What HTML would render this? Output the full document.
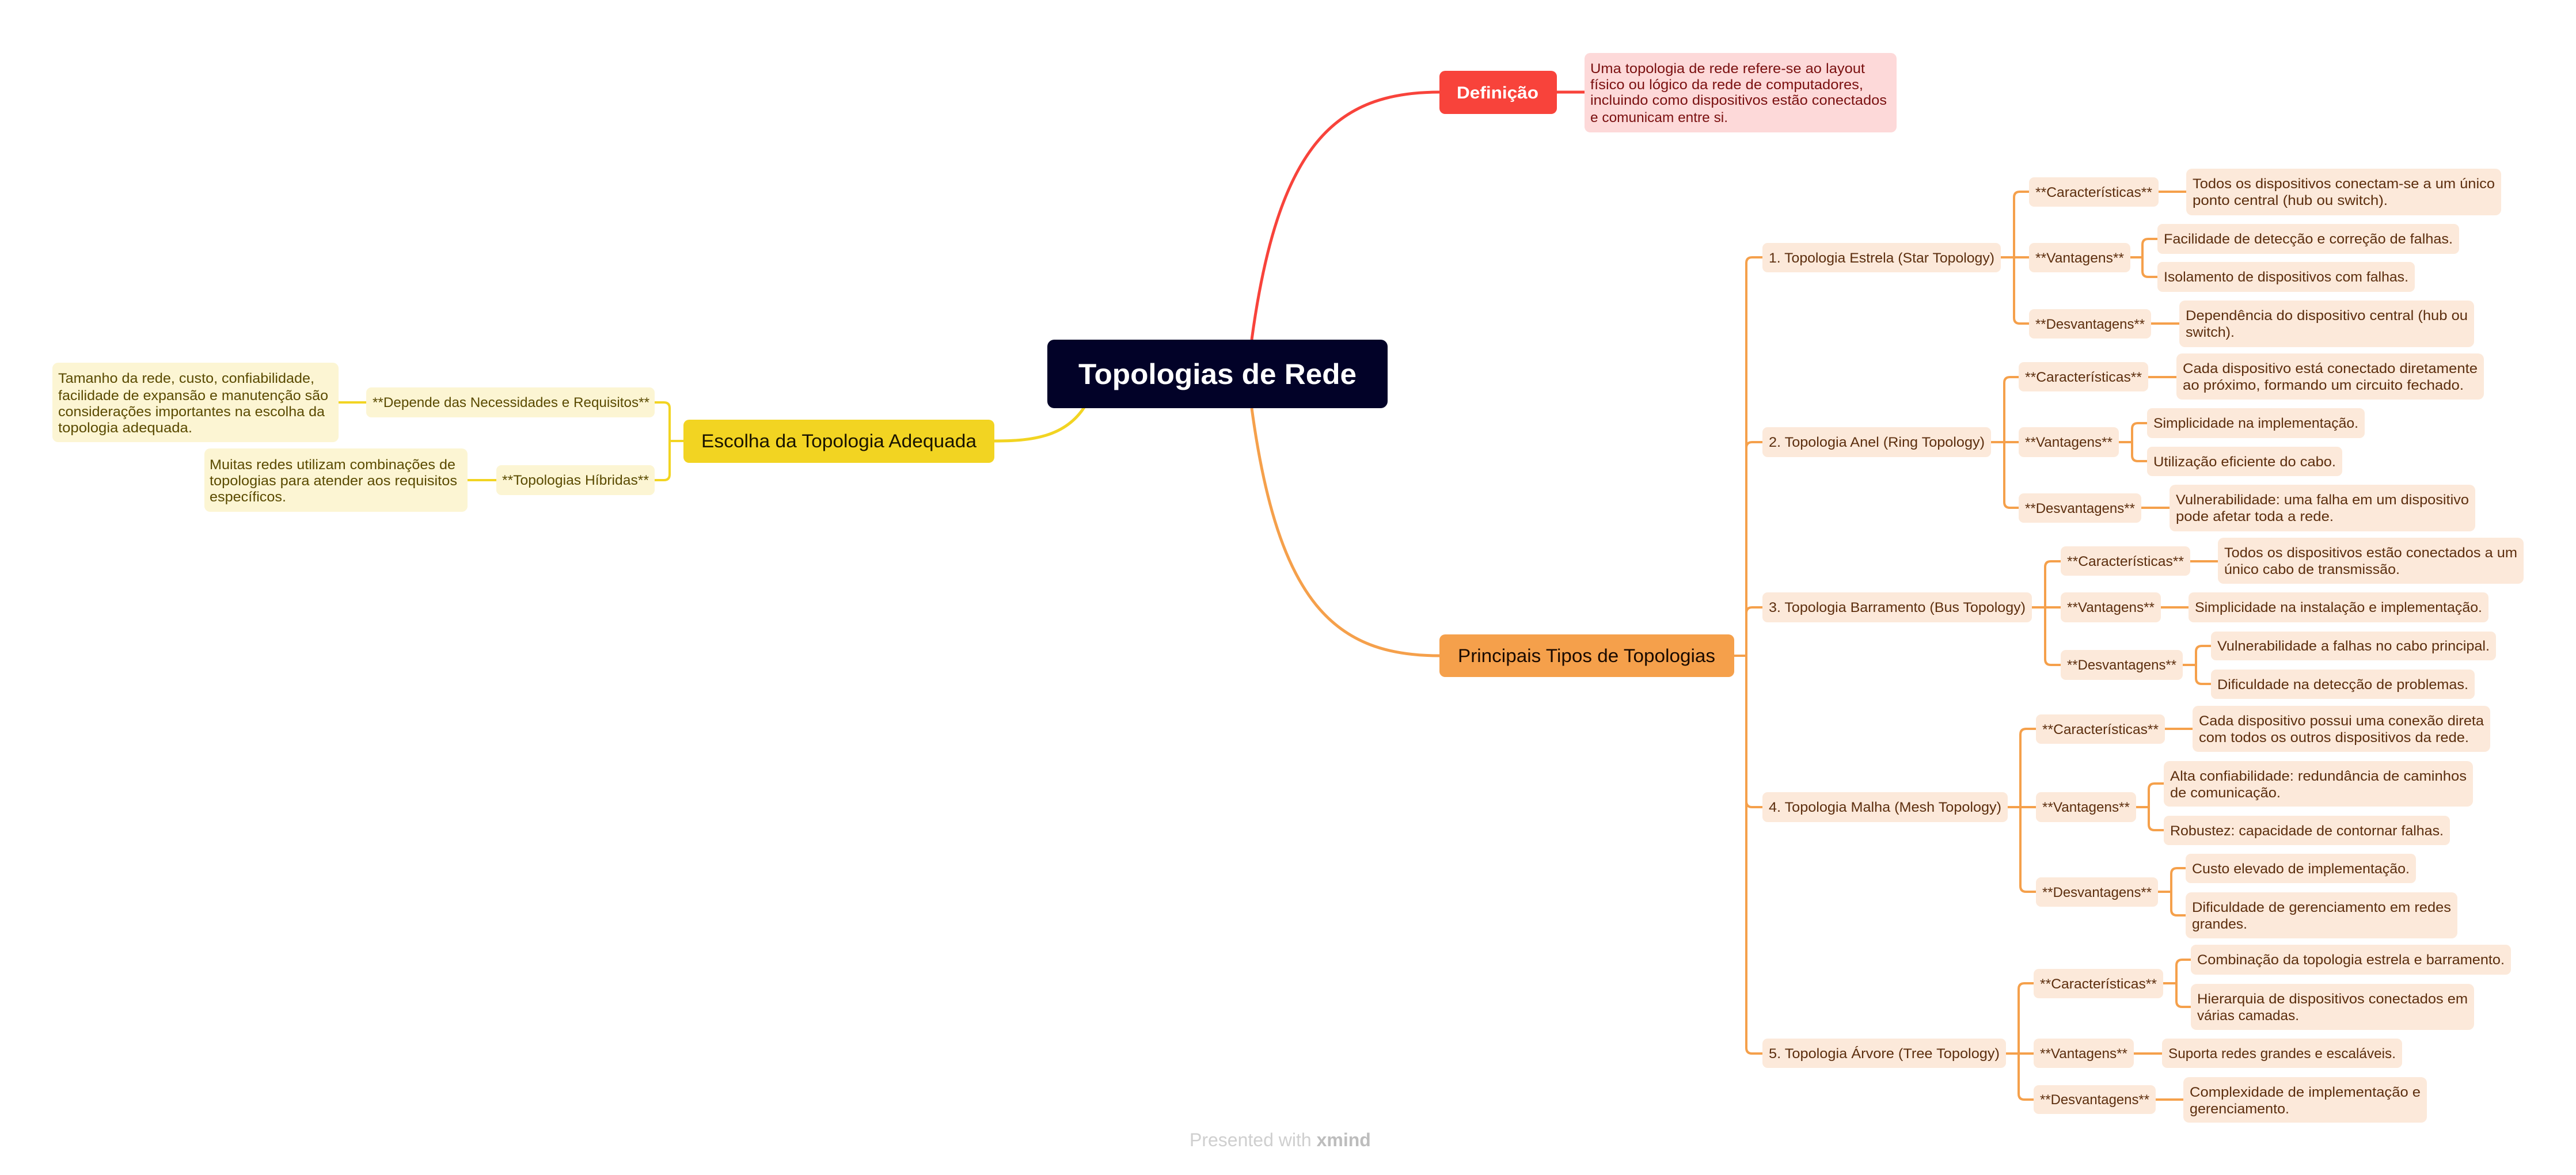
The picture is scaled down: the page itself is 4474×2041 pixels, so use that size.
<!DOCTYPE html>
<html><head><meta charset="utf-8"><style>
html,body{margin:0;padding:0;background:#fff;}
svg{display:block;}
text{font-family:"Liberation Sans",sans-serif;}
.o{fill:#fce9da;}
.ot{fill:#5c2e0e;font-size:24px;}
.y{fill:#fcf5d3;}
.yt{fill:#5a4a00;font-size:24px;}
</style></head><body>
<svg width="4474" height="2041" viewBox="0 0 4474 2041" xmlns="http://www.w3.org/2000/svg">
<rect width="4474" height="2041" fill="#fff"/>
<!-- main curves -->
<path d="M2174,590 C2220,250 2320,160 2500,160" fill="none" stroke="#f8433b" stroke-width="5"/>
<path d="M2704,160 H2752" stroke="#f8433b" stroke-width="5"/>
<path d="M2174,709 C2220,1050 2320,1139 2500,1139" fill="none" stroke="#f5a04b" stroke-width="5"/>
<path d="M1884,706 C1850,760 1790,766 1727,766" fill="none" stroke="#f2d422" stroke-width="5"/>
<!-- yellow branches -->
<g fill="none" stroke="#f2d422" stroke-width="4">
<path d="M1187,766 H1163"/><path d="M1163,766 V709 Q1163,699 1153,699 H1137"/><path d="M1163,766 V824 Q1163,834 1153,834 H1137"/>
<path d="M636,699 H588"/><path d="M862,834 H812"/>
</g>
<!-- orange branches -->
<g fill="none" stroke="#f5a04b" stroke-width="4">
<path d="M3012,1139 H3033"/>
<path d="M3033,1139 V457 Q3033,447 3043,447 H3061"/>
<path d="M3033,1139 V778 Q3033,768 3043,768 H3061"/>
<path d="M3033,1139 V1065 Q3033,1055 3043,1055 H3061"/>
<path d="M3033,1139 V1392 Q3033,1402 3043,1402 H3061"/>
<path d="M3033,1139 V1820 Q3033,1830 3043,1830 H3061"/>
<path d="M3475,447 H3498"/><path d="M3498,447 V343 Q3498,333 3508,333 H3524"/><path d="M3498,447 H3524"/><path d="M3498,447 V552 Q3498,562 3508,562 H3524"/>
<path d="M3700,447 H3721"/><path d="M3721,447 V425 Q3721,415 3731,415 H3747"/><path d="M3721,447 V471 Q3721,481 3731,481 H3747"/>
<path d="M3749,333 H3797"/><path d="M3736,562 H3785"/>
<path d="M3458,768 H3481"/><path d="M3481,768 V665 Q3481,655 3491,655 H3506"/><path d="M3481,768 H3506"/><path d="M3481,768 V872 Q3481,882 3491,882 H3506"/>
<path d="M3731,655 H3780"/>
<path d="M3680,768 H3703"/><path d="M3703,768 V745 Q3703,735 3713,735 H3729"/><path d="M3703,768 V791 Q3703,801 3713,801 H3729"/>
<path d="M3719,882 H3768"/>
<path d="M3529,1055 H3552"/><path d="M3552,1055 V985 Q3552,975 3562,975 H3579"/><path d="M3552,1055 H3579"/><path d="M3552,1055 V1145 Q3552,1155 3562,1155 H3579"/>
<path d="M3804,975 H3852"/><path d="M3753,1055 H3801"/>
<path d="M3791,1155 H3814"/><path d="M3814,1155 V1132 Q3814,1122 3824,1122 H3840"/><path d="M3814,1155 V1178 Q3814,1188 3824,1188 H3840"/>
<path d="M3487,1402 H3509"/><path d="M3509,1402 V1276 Q3509,1266 3519,1266 H3536"/><path d="M3509,1402 H3536"/><path d="M3509,1402 V1539 Q3509,1549 3519,1549 H3536"/>
<path d="M3760,1266 H3808"/>
<path d="M3710,1402 H3732"/><path d="M3732,1402 V1371 Q3732,1361 3742,1361 H3758"/><path d="M3732,1402 V1432 Q3732,1442 3742,1442 H3758"/>
<path d="M3748,1549 H3771"/><path d="M3771,1549 V1518 Q3771,1508 3781,1508 H3796"/><path d="M3771,1549 V1580 Q3771,1590 3781,1590 H3796"/>
<path d="M3484,1830 H3506"/><path d="M3506,1830 V1718 Q3506,1708 3516,1708 H3532"/><path d="M3506,1830 H3532"/><path d="M3506,1830 V1900 Q3506,1910 3516,1910 H3532"/>
<path d="M3757,1708 H3780"/><path d="M3780,1708 V1677 Q3780,1667 3790,1667 H3805"/><path d="M3780,1708 V1739 Q3780,1749 3790,1749 H3805"/>
<path d="M3706,1830 H3755"/><path d="M3744,1910 H3792"/>
</g>

<!-- central -->
<rect x="1819" y="590" width="591" height="119" rx="12" fill="#020228"/>
<text x="1873" y="667" font-size="50" fill="#fff" font-weight="bold" textLength="483" lengthAdjust="spacingAndGlyphs">Topologias de Rede</text>

<!-- Definição -->
<rect x="2500" y="123" width="204" height="75" rx="10" fill="#f8433b"/>
<text x="2530" y="171" font-size="30" fill="#fff" font-weight="bold" textLength="142" lengthAdjust="spacingAndGlyphs">Definição</text>
<rect x="2752" y="92" width="542" height="138" rx="10" fill="#fdd9d9"/>
<g font-size="24" fill="#7a1010">
<text x="2762" y="127" textLength="477" lengthAdjust="spacingAndGlyphs">Uma topologia de rede refere-se ao layout</text>
<text x="2762" y="155" textLength="474" lengthAdjust="spacingAndGlyphs">físico ou lógico da rede de computadores,</text>
<text x="2762" y="182" textLength="515" lengthAdjust="spacingAndGlyphs">incluindo como dispositivos estão conectados</text>
<text x="2762" y="212" textLength="239" lengthAdjust="spacingAndGlyphs">e comunicam entre si.</text>
</g>

<!-- Principais -->
<rect x="2500" y="1102" width="512" height="74" rx="10" fill="#f5a04b"/>
<text x="2532" y="1150" font-size="32" fill="#1a0a00" textLength="447" lengthAdjust="spacingAndGlyphs">Principais Tipos de Topologias</text>

<!-- Escolha -->
<rect x="1187" y="729" width="540" height="75" rx="10" fill="#f2d422"/>
<text x="1218" y="777" font-size="32" fill="#1a1400" textLength="478" lengthAdjust="spacingAndGlyphs">Escolha da Topologia Adequada</text>
<rect class="y" x="636" y="673" width="501" height="52" rx="9"/>
<text class="yt" x="647" y="707" textLength="481" lengthAdjust="spacingAndGlyphs">**Depende das Necessidades e Requisitos**</text>
<rect class="y" x="91" y="630" width="497" height="138" rx="10"/>
<text class="yt" x="101" y="665" textLength="445" lengthAdjust="spacingAndGlyphs">Tamanho da rede, custo, confiabilidade,</text>
<text class="yt" x="101" y="695" textLength="469" lengthAdjust="spacingAndGlyphs">facilidade de expansão e manutenção são</text>
<text class="yt" x="101" y="723" textLength="463" lengthAdjust="spacingAndGlyphs">considerações importantes na escolha da</text>
<text class="yt" x="101" y="751" textLength="233" lengthAdjust="spacingAndGlyphs">topologia adequada.</text>
<rect class="y" x="862" y="808" width="275" height="52" rx="9"/>
<text class="yt" x="872" y="842" textLength="255" lengthAdjust="spacingAndGlyphs">**Topologias Híbridas**</text>
<rect class="y" x="355" y="779" width="457" height="110" rx="10"/>
<text class="yt" x="364" y="815" textLength="427" lengthAdjust="spacingAndGlyphs">Muitas redes utilizam combinações de</text>
<text class="yt" x="364" y="843" textLength="430" lengthAdjust="spacingAndGlyphs">topologias para atender aos requisitos</text>
<text class="yt" x="364" y="871" textLength="133" lengthAdjust="spacingAndGlyphs">específicos.</text>

<!-- Orange nodes -->
<g>
<rect class="o" x="3061" y="422" width="414" height="51" rx="9"/><text class="ot" x="3072" y="456" textLength="392" lengthAdjust="spacingAndGlyphs">1. Topologia Estrela (Star Topology)</text>
<rect class="o" x="3524" y="308" width="225" height="51" rx="9"/><text class="ot" x="3535" y="342" textLength="203" lengthAdjust="spacingAndGlyphs">**Características**</text>
<rect class="o" x="3797" y="293" width="547" height="81" rx="10"/><text class="ot" x="3808" y="327" textLength="525" lengthAdjust="spacingAndGlyphs">Todos os dispositivos conectam-se a um único</text><text class="ot" x="3808" y="356" textLength="339" lengthAdjust="spacingAndGlyphs">ponto central (hub ou switch).</text>
<rect class="o" x="3524" y="422" width="176" height="51" rx="9"/><text class="ot" x="3535" y="456" textLength="154" lengthAdjust="spacingAndGlyphs">**Vantagens**</text>
<rect class="o" x="3747" y="389" width="524" height="52" rx="9"/><text class="ot" x="3758" y="423" textLength="502" lengthAdjust="spacingAndGlyphs">Facilidade de detecção e correção de falhas.</text>
<rect class="o" x="3747" y="455" width="447" height="52" rx="9"/><text class="ot" x="3758" y="489" textLength="425" lengthAdjust="spacingAndGlyphs">Isolamento de dispositivos com falhas.</text>
<rect class="o" x="3524" y="537" width="212" height="51" rx="9"/><text class="ot" x="3535" y="571" textLength="190" lengthAdjust="spacingAndGlyphs">**Desvantagens**</text>
<rect class="o" x="3785" y="522" width="512" height="81" rx="10"/><text class="ot" x="3796" y="556" textLength="490" lengthAdjust="spacingAndGlyphs">Dependência do dispositivo central (hub ou</text><text class="ot" x="3796" y="585" textLength="85" lengthAdjust="spacingAndGlyphs">switch).</text>

<rect class="o" x="3061" y="742" width="397" height="52" rx="9"/><text class="ot" x="3072" y="776" textLength="375" lengthAdjust="spacingAndGlyphs">2. Topologia Anel (Ring Topology)</text>
<rect class="o" x="3506" y="629" width="225" height="51" rx="9"/><text class="ot" x="3517" y="663" textLength="203" lengthAdjust="spacingAndGlyphs">**Características**</text>
<rect class="o" x="3780" y="614" width="534" height="80" rx="10"/><text class="ot" x="3791" y="648" textLength="512" lengthAdjust="spacingAndGlyphs">Cada dispositivo está conectado diretamente</text><text class="ot" x="3791" y="677" textLength="488" lengthAdjust="spacingAndGlyphs">ao próximo, formando um circuito fechado.</text>
<rect class="o" x="3506" y="742" width="174" height="52" rx="9"/><text class="ot" x="3517" y="776" textLength="152" lengthAdjust="spacingAndGlyphs">**Vantagens**</text>
<rect class="o" x="3729" y="709" width="378" height="52" rx="9"/><text class="ot" x="3740" y="743" textLength="356" lengthAdjust="spacingAndGlyphs">Simplicidade na implementação.</text>
<rect class="o" x="3729" y="776" width="339" height="51" rx="9"/><text class="ot" x="3740" y="810" textLength="317" lengthAdjust="spacingAndGlyphs">Utilização eficiente do cabo.</text>
<rect class="o" x="3506" y="857" width="213" height="51" rx="9"/><text class="ot" x="3517" y="891" textLength="191" lengthAdjust="spacingAndGlyphs">**Desvantagens**</text>
<rect class="o" x="3768" y="842" width="531" height="81" rx="10"/><text class="ot" x="3779" y="876" textLength="509" lengthAdjust="spacingAndGlyphs">Vulnerabilidade: uma falha em um dispositivo</text><text class="ot" x="3779" y="905" textLength="274" lengthAdjust="spacingAndGlyphs">pode afetar toda a rede.</text>

<rect class="o" x="3061" y="1029" width="468" height="52" rx="9"/><text class="ot" x="3072" y="1063" textLength="446" lengthAdjust="spacingAndGlyphs">3. Topologia Barramento (Bus Topology)</text>
<rect class="o" x="3579" y="949" width="225" height="51" rx="9"/><text class="ot" x="3590" y="983" textLength="203" lengthAdjust="spacingAndGlyphs">**Características**</text>
<rect class="o" x="3852" y="934" width="531" height="80" rx="10"/><text class="ot" x="3863" y="968" textLength="509" lengthAdjust="spacingAndGlyphs">Todos os dispositivos estão conectados a um</text><text class="ot" x="3863" y="997" textLength="305" lengthAdjust="spacingAndGlyphs">único cabo de transmissão.</text>
<rect class="o" x="3579" y="1029" width="174" height="52" rx="9"/><text class="ot" x="3590" y="1063" textLength="152" lengthAdjust="spacingAndGlyphs">**Vantagens**</text>
<rect class="o" x="3801" y="1029" width="521" height="52" rx="9"/><text class="ot" x="3812" y="1063" textLength="499" lengthAdjust="spacingAndGlyphs">Simplicidade na instalação e implementação.</text>
<rect class="o" x="3579" y="1129" width="212" height="52" rx="9"/><text class="ot" x="3590" y="1163" textLength="190" lengthAdjust="spacingAndGlyphs">**Desvantagens**</text>
<rect class="o" x="3840" y="1097" width="495" height="50" rx="9"/><text class="ot" x="3851" y="1130" textLength="473" lengthAdjust="spacingAndGlyphs">Vulnerabilidade a falhas no cabo principal.</text>
<rect class="o" x="3840" y="1163" width="458" height="51" rx="9"/><text class="ot" x="3851" y="1197" textLength="436" lengthAdjust="spacingAndGlyphs">Dificuldade na detecção de problemas.</text>

<rect class="o" x="3061" y="1376" width="426" height="52" rx="9"/><text class="ot" x="3072" y="1410" textLength="404" lengthAdjust="spacingAndGlyphs">4. Topologia Malha (Mesh Topology)</text>
<rect class="o" x="3536" y="1241" width="224" height="51" rx="9"/><text class="ot" x="3547" y="1275" textLength="202" lengthAdjust="spacingAndGlyphs">**Características**</text>
<rect class="o" x="3808" y="1226" width="517" height="80" rx="10"/><text class="ot" x="3819" y="1260" textLength="495" lengthAdjust="spacingAndGlyphs">Cada dispositivo possui uma conexão direta</text><text class="ot" x="3819" y="1289" textLength="469" lengthAdjust="spacingAndGlyphs">com todos os outros dispositivos da rede.</text>
<rect class="o" x="3536" y="1376" width="174" height="52" rx="9"/><text class="ot" x="3547" y="1410" textLength="152" lengthAdjust="spacingAndGlyphs">**Vantagens**</text>
<rect class="o" x="3758" y="1322" width="537" height="79" rx="10"/><text class="ot" x="3769" y="1356" textLength="515" lengthAdjust="spacingAndGlyphs">Alta confiabilidade: redundância de caminhos</text><text class="ot" x="3769" y="1385" textLength="192" lengthAdjust="spacingAndGlyphs">de comunicação.</text>
<rect class="o" x="3758" y="1417" width="497" height="51" rx="9"/><text class="ot" x="3769" y="1451" textLength="475" lengthAdjust="spacingAndGlyphs">Robustez: capacidade de contornar falhas.</text>
<rect class="o" x="3536" y="1524" width="212" height="51" rx="9"/><text class="ot" x="3547" y="1558" textLength="190" lengthAdjust="spacingAndGlyphs">**Desvantagens**</text>
<rect class="o" x="3796" y="1483" width="400" height="51" rx="9"/><text class="ot" x="3807" y="1517" textLength="378" lengthAdjust="spacingAndGlyphs">Custo elevado de implementação.</text>
<rect class="o" x="3796" y="1550" width="472" height="80" rx="10"/><text class="ot" x="3807" y="1584" textLength="450" lengthAdjust="spacingAndGlyphs">Dificuldade de gerenciamento em redes</text><text class="ot" x="3807" y="1613" textLength="96" lengthAdjust="spacingAndGlyphs">grandes.</text>

<rect class="o" x="3061" y="1804" width="423" height="51" rx="9"/><text class="ot" x="3072" y="1838" textLength="401" lengthAdjust="spacingAndGlyphs">5. Topologia Árvore (Tree Topology)</text>
<rect class="o" x="3532" y="1683" width="225" height="51" rx="9"/><text class="ot" x="3543" y="1717" textLength="203" lengthAdjust="spacingAndGlyphs">**Características**</text>
<rect class="o" x="3805" y="1641" width="556" height="52" rx="9"/><text class="ot" x="3816" y="1675" textLength="534" lengthAdjust="spacingAndGlyphs">Combinação da topologia estrela e barramento.</text>
<rect class="o" x="3805" y="1709" width="492" height="80" rx="10"/><text class="ot" x="3816" y="1743" textLength="470" lengthAdjust="spacingAndGlyphs">Hierarquia de dispositivos conectados em</text><text class="ot" x="3816" y="1772" textLength="177" lengthAdjust="spacingAndGlyphs">várias camadas.</text>
<rect class="o" x="3532" y="1804" width="174" height="51" rx="9"/><text class="ot" x="3543" y="1838" textLength="152" lengthAdjust="spacingAndGlyphs">**Vantagens**</text>
<rect class="o" x="3755" y="1804" width="417" height="51" rx="9"/><text class="ot" x="3766" y="1838" textLength="395" lengthAdjust="spacingAndGlyphs">Suporta redes grandes e escaláveis.</text>
<rect class="o" x="3532" y="1885" width="212" height="50" rx="9"/><text class="ot" x="3543" y="1918" textLength="190" lengthAdjust="spacingAndGlyphs">**Desvantagens**</text>
<rect class="o" x="3792" y="1871" width="423" height="79" rx="10"/><text class="ot" x="3803" y="1905" textLength="401" lengthAdjust="spacingAndGlyphs">Complexidade de implementação e</text><text class="ot" x="3803" y="1934" textLength="173" lengthAdjust="spacingAndGlyphs">gerenciamento.</text>
</g>

<!-- footer -->
<text x="2066" y="1991" font-size="32" fill="#cfcfcf">Presented with <tspan font-weight="bold" fill="#bdbdbd">xmind</tspan></text>
</svg>
</body></html>
